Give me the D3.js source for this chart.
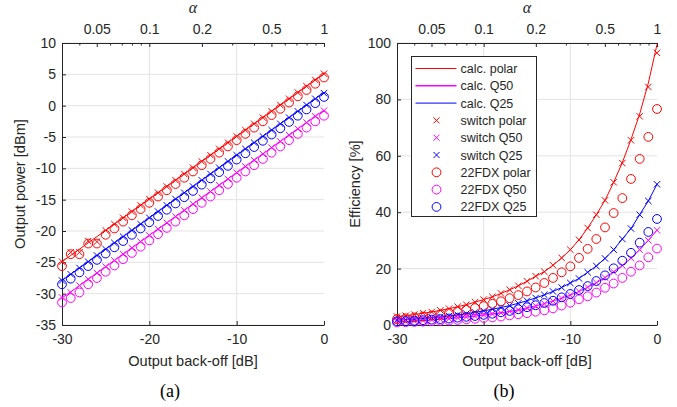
<!DOCTYPE html>
<html>
<head>
<meta charset="utf-8">
<script src="https://cdn.jsdelivr.net/npm/d3@7"></script>
<style>
  body { margin: 0; background: #fff; }
  svg { display: block; }
  text { fill: #262626; }
</style>
</head>
<body>
<div id="chart"></div>
<script>
// output back-off, dB
var obo = d3.range(-30, 1);

// (a) output power [dBm]
var powCalcPolar = [-24.9,-23.9,-22.9,-21.9,-20.9,-19.9,-18.9,-17.9,-16.9,-15.9,-14.9,-13.9,-12.9,-11.9,-10.9,-9.9,-8.9,-7.9,-6.9,-5.9,-4.9,-3.9,-2.9,-1.9,-0.9,0.1,1.1,2.1,3.1,4.1,5.1];
var powCalcQ50 = [-30.7,-29.7,-28.7,-27.7,-26.7,-25.7,-24.7,-23.7,-22.7,-21.7,-20.7,-19.7,-18.7,-17.7,-16.7,-15.7,-14.7,-13.7,-12.7,-11.7,-10.7,-9.7,-8.7,-7.7,-6.7,-5.7,-4.7,-3.7,-2.7,-1.7,-0.7];
var powCalcQ25 = [-27.9,-26.9,-25.9,-24.9,-23.9,-22.9,-21.9,-20.9,-19.9,-18.9,-17.9,-16.9,-15.9,-14.9,-13.9,-12.9,-11.9,-10.9,-9.9,-8.9,-7.9,-6.9,-5.9,-4.9,-3.9,-2.9,-1.9,-0.9,0.1,1.1,2.1];
var powSwPolar = [-24.9,-23.4,-23.4,-21.6,-21.7,-19.9,-18.9,-17.9,-16.9,-15.9,-14.9,-13.9,-12.9,-11.9,-10.9,-9.9,-8.9,-7.9,-6.9,-5.9,-4.9,-3.9,-2.9,-1.9,-0.9,0.1,1.1,2.1,3.1,4.1,5.1];
var powSwQ50 = [-30.6,-29.8,-28.7,-27.7,-26.7,-25.7,-24.7,-23.7,-22.7,-21.7,-20.7,-19.7,-18.7,-17.7,-16.7,-15.7,-14.7,-13.7,-12.7,-11.7,-10.7,-9.7,-8.7,-7.7,-6.7,-5.7,-4.7,-3.7,-2.7,-1.7,-0.8];
var powSwQ25 = [-27.9,-26.9,-25.9,-24.9,-23.9,-22.9,-21.9,-20.9,-19.9,-18.9,-17.9,-16.9,-15.9,-14.9,-13.9,-12.9,-11.9,-10.9,-9.9,-8.9,-7.9,-6.9,-5.9,-4.9,-3.9,-2.9,-1.9,-0.9,0.1,1.1,2.0];
var powFdxPolar = [-25.6,-23.7,-23.7,-22.0,-22.0,-20.6,-19.6,-18.5,-17.5,-16.5,-15.5,-14.5,-13.5,-12.5,-11.5,-10.5,-9.5,-8.5,-7.5,-6.5,-5.5,-4.5,-3.5,-2.5,-1.5,-0.5,0.5,1.5,2.5,3.5,4.5];
var powFdxQ50 = [-31.4,-30.7,-29.8,-28.5,-27.5,-26.5,-25.5,-24.5,-23.5,-22.5,-21.5,-20.5,-19.5,-18.5,-17.5,-16.5,-15.5,-14.5,-13.5,-12.5,-11.5,-10.5,-9.5,-8.5,-7.5,-6.5,-5.5,-4.5,-3.5,-2.5,-1.6];
var powFdxQ25 = [-28.5,-27.6,-26.6,-25.6,-24.6,-23.6,-22.6,-21.6,-20.6,-19.6,-18.6,-17.6,-16.6,-15.6,-14.6,-13.6,-12.6,-11.6,-10.6,-9.6,-8.6,-7.6,-6.6,-5.6,-4.6,-3.6,-2.6,-1.6,-0.6,0.4,1.4];

// (b) efficiency [%]
var effCalcPolar = [3.0,3.3,3.7,4.2,4.6,5.2,5.8,6.5,7.2,8.1,9.0,10.0,11.2,12.5,13.9,15.5,17.3,18.9,21.2,23.8,26.7,30.2,34.4,39.1,44.2,50.6,57.6,65.8,74.8,85.8,99.5];
var effCalcQ50 = [1.2,1.3,1.4,1.6,1.8,2.0,2.2,2.5,2.8,3.1,3.5,3.9,4.3,4.8,5.4,6.1,6.8,7.6,8.5,9.5,10.6,11.9,13.4,15.0,16.8,18.8,21.1,23.7,26.7,30.0,33.6];
var effCalcQ25 = [1.7,1.9,2.1,2.3,2.6,2.9,3.2,3.6,4.0,4.5,5.0,5.6,6.2,6.9,7.7,8.6,9.6,10.7,11.9,13.3,14.9,16.5,18.7,20.9,23.6,26.7,30.5,34.2,39.1,44.0,49.9];
var effSwPolar = [3.0,3.3,3.7,4.2,4.6,5.2,5.8,6.5,7.2,8.1,9.0,10.0,11.2,12.5,13.9,15.5,17.3,18.9,21.2,23.8,26.7,30.2,34.4,39.1,44.2,50.6,57.4,65.5,74.0,84.4,96.5];
var effSwQ50 = [1.2,1.3,1.4,1.6,1.8,2.0,2.2,2.5,2.8,3.1,3.5,3.9,4.3,4.8,5.4,6.1,6.8,7.6,8.5,9.5,10.6,11.9,13.4,15.0,16.8,18.8,21.1,23.7,26.7,30.0,33.6];
var effSwQ25 = [1.7,1.9,2.1,2.3,2.6,2.9,3.2,3.6,4.0,4.5,5.0,5.6,6.2,6.9,7.7,8.6,9.6,10.7,11.9,13.3,14.9,16.5,18.7,20.9,23.6,26.7,30.5,34.2,39.1,44.0,49.9];
var effFdxPolar = [2.1,2.4,2.7,3.0,3.4,3.8,4.3,4.8,5.4,6.0,6.7,7.5,8.4,9.5,10.6,11.9,13.3,14.9,16.7,18.7,20.8,23.8,27.0,30.5,34.6,39.7,45.0,51.8,58.9,66.7,76.6];
var effFdxQ50 = [0.9,1.0,1.1,1.2,1.3,1.5,1.6,1.8,2.0,2.2,2.5,2.7,3.0,3.4,3.8,4.2,4.7,5.2,5.9,6.9,7.9,9.1,10.2,11.5,13.2,14.7,16.7,18.9,21.1,24.0,27.1];
var effFdxQ25 = [1.3,1.4,1.5,1.7,1.9,2.1,2.3,2.6,2.9,3.2,3.6,4.0,4.5,5.0,5.6,6.3,7.0,7.8,8.6,9.8,11.0,12.4,13.8,15.6,17.6,20.1,22.8,25.6,29.2,33.0,37.6];

var legendNames = ["calc. polar", "calc. Q50", "calc. Q25", "switch polar", "switch Q50", "switch Q25", "22FDX polar", "22FDX Q50", "22FDX Q25"];
var alphaLabels = [0.05, 0.1, 0.2, 0.5, 1];
var alphaMinor = [0.04, 0.06, 0.07, 0.08, 0.09, 0.3, 0.4, 0.6, 0.7, 0.8, 0.9];

var RED = "#ff0000", MAG = "#ff00ff", BLUE = "#0000ff";
var AX = "#262626", GRID = "#e3e3e3";
var SANS = '"Liberation Sans", Arial, sans-serif';
var SERIF = '"Liberation Serif", "Times New Roman", serif';

var svg = d3.select('#chart')
    .append('svg')
    .attr('width', 677)
    .attr('height', 407);

function xMark(sel, s) {
    sel.attr('d', 'M' + (-s) + ',' + (-s) + 'L' + s + ',' + s + 'M' + (-s) + ',' + s + 'L' + s + ',' + (-s));
}

function drawPanel(opt) {
    var x = d3.scaleLinear().domain([-30, 0]).range([opt.left, opt.right]);
    var y = d3.scaleLinear().domain(opt.yDomain).range([opt.bottom, opt.top]);
    var a = d3.scaleLog().domain([Math.pow(10, -1.5), 1]).range([opt.left, opt.right]);
    var g = svg.append('g');
    var plain = d => String(d); // hyphen minus, like the original

    // grid
    g.append('g').selectAll('line').data(opt.yTicks).join('line')
        .attr('x1', opt.left).attr('x2', opt.right)
        .attr('y1', d => y(d)).attr('y2', d => y(d))
        .attr('stroke', GRID).attr('stroke-width', 1);
    g.append('g').selectAll('line').data([-20, -10]).join('line')
        .attr('x1', d => x(d)).attr('x2', d => x(d))
        .attr('y1', opt.top).attr('y2', opt.bottom)
        .attr('stroke', GRID).attr('stroke-width', 1);

    // bottom axis
    var xa = g.append('g').attr('transform', 'translate(0,' + opt.bottom + ')')
        .call(d3.axisBottom(x).tickValues([-30, -20, -10, 0]).tickFormat(plain)
            .tickSizeInner(-4).tickSizeOuter(0).tickPadding(9));
    // left axis
    var ya = g.append('g').attr('transform', 'translate(' + opt.left + ',0)')
        .call(d3.axisLeft(y).tickValues(opt.yTicks).tickFormat(plain)
            .tickSizeInner(-4).tickSizeOuter(0).tickPadding(6));
    // top alpha axis
    var ta = g.append('g').attr('transform', 'translate(0,' + opt.top + ')')
        .call(d3.axisTop(a).tickValues(alphaLabels).tickFormat(plain)
            .tickSizeInner(-4).tickSizeOuter(0).tickPadding(9));
    g.append('g').selectAll('line').data(alphaMinor).join('line')
        .attr('x1', d => a(d)).attr('x2', d => a(d))
        .attr('y1', opt.top).attr('y2', opt.top + 2.5)
        .attr('stroke', AX);

    [xa, ya, ta].forEach(function (s) {
        s.selectAll('path.domain').attr('stroke', AX).attr('stroke-width', 1);
        s.selectAll('.tick line').attr('stroke', AX);
        s.selectAll('.tick text').style('font-size', '14px').style('fill', AX)
            .style('font-family', SANS);
    });

    // axis titles
    svg.append('text').attr('x', (opt.left + opt.right) / 2).attr('y', 366)
        .attr('text-anchor', 'middle').style('font-family', SANS).style('font-size', '14.6px')
        .text('Output back-off [dB]');
    svg.append('text')
        .attr('transform', 'translate(' + opt.yLabelX + ',' + ((opt.top + opt.bottom) / 2) + ') rotate(-90)')
        .attr('text-anchor', 'middle').style('font-family', SANS).style('font-size', '14.6px')
        .text(opt.yLabel);
    svg.append('text').attr('x', (opt.left + opt.right) / 2).attr('y', 13)
        .attr('text-anchor', 'middle').style('font-size', '16px')
        .style('font-family', SERIF).style('font-style', 'italic').text('\u03b1');
    svg.append('text').attr('x', opt.capX).attr('y', 397)
        .attr('text-anchor', 'middle').style('font-size', '18px')
        .style('font-family', SERIF).style('fill', '#000').text(opt.caption);

    var plot = g.append('g');
    var line = d3.line().x((d, i) => x(obo[i])).y(d => y(d));
    var s = opt.series;
    [[s.calc[0], RED], [s.calc[1], MAG], [s.calc[2], BLUE]].forEach(function (p) {
        plot.append('path').datum(p[0]).attr('d', line)
            .attr('fill', 'none').attr('stroke', p[1]).attr('stroke-width', 1);
    });
    [[s.sw[0], RED], [s.sw[1], MAG], [s.sw[2], BLUE]].forEach(function (p) {
        plot.append('g').selectAll('path').data(p[0]).join('path')
            .attr('transform', (d, i) => 'translate(' + x(obo[i]) + ',' + y(d) + ')')
            .call(xMark, 3.2)
            .attr('fill', 'none').attr('stroke', p[1]).attr('stroke-width', 1);
    });
    [[s.fdx[0], RED], [s.fdx[1], MAG], [s.fdx[2], BLUE]].forEach(function (p) {
        plot.append('g').selectAll('circle').data(p[0]).join('circle')
            .attr('cx', (d, i) => x(obo[i])).attr('cy', d => y(d)).attr('r', 4.4)
            .attr('fill', 'none').attr('stroke', p[1]).attr('stroke-width', 1);
    });
}

drawPanel({
    left: 62, right: 324, top: 43, bottom: 325,
    yDomain: [-35, 10], yTicks: d3.range(-35, 11, 5),
    yLabel: 'Output power [dBm]', yLabelX: 25, caption: '(a)', capX: 170,
    series: {
        calc: [powCalcPolar, powCalcQ50, powCalcQ25],
        sw: [powSwPolar, powSwQ50, powSwQ25],
        fdx: [powFdxPolar, powFdxQ50, powFdxQ25]
    }
});

drawPanel({
    left: 397, right: 657, top: 43, bottom: 325,
    yDomain: [0, 100], yTicks: d3.range(0, 101, 20),
    yLabel: 'Efficiency [%]', yLabelX: 360, caption: '(b)', capX: 504,
    series: {
        calc: [effCalcPolar, effCalcQ50, effCalcQ25],
        sw: [effSwPolar, effSwQ50, effSwQ25],
        fdx: [effFdxPolar, effFdxQ50, effFdxQ25]
    }
});

// legend
var lg = svg.append('g').attr('transform', 'translate(411.5,56.5)');
lg.append('rect').attr('width', 125).attr('height', 160)
    .attr('fill', '#fff').attr('stroke', AX).attr('stroke-width', 1);
var legColors = [RED, MAG, BLUE, RED, MAG, BLUE, RED, MAG, BLUE];
legendNames.forEach(function (name, i) {
    var cy = 12 + i * 17.3;
    var row = lg.append('g').attr('transform', 'translate(0,' + cy + ')');
    if (i < 3) {
        row.append('line').attr('x1', 4).attr('x2', 45).attr('y1', 0).attr('y2', 0)
            .attr('stroke', legColors[i]).attr('stroke-width', i == 1 ? 1.6 : 1);
    } else if (i < 6) {
        row.append('path').attr('transform', 'translate(25,0)').call(xMark, 3)
            .attr('fill', 'none').attr('stroke', legColors[i]);
    } else {
        row.append('circle').attr('cx', 25).attr('cy', 0).attr('r', 4.4)
            .attr('fill', 'none').attr('stroke', legColors[i]);
    }
    row.append('text').attr('x', 49).attr('y', 4.5)
        .style('font-family', SANS).style('font-size', '12.5px').text(name);
});
</script>
</body>
</html>
